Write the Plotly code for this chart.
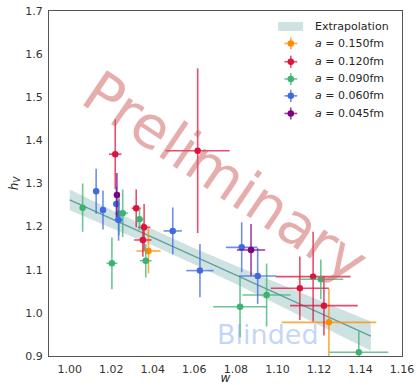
import plotly.graph_objects as go

# ---------------- data ----------------
orange_w = [1.0379, 1.1248]
orange_h = [1.1435, 0.978]
orange_wx = [0.0058, 0.0228]
orange_he = [0.052, 0.078]

red_w = [1.0219, 1.0320, 1.0358, 1.0352, 1.0616, 1.1108, 1.1172, 1.1224]
red_h = [1.368, 1.2425, 1.1984, 1.169, 1.376, 1.057, 1.084, 1.0167]
red_wx = [0.003, 0.0022, 0.003, 0.0042, 0.0154, 0.014, 0.018, 0.0163]
red_he = [0.081, 0.044, 0.054, 0.039, 0.191, 0.0735, 0.104, 0.069]

green_w = [1.0062, 1.0203, 1.0237, 1.0255, 1.0336, 1.0366, 1.0820, 1.0948, 1.1209, 1.1392]
green_h = [1.244, 1.115, 1.230, 1.231, 1.217, 1.121, 1.0143, 1.0414, 1.0778, 0.9086]
green_wx = [0.0005, 0.0026, 0.002, 0.0025, 0.002, 0.0028, 0.0129, 0.0116, 0.0108, 0.0142]
green_he = [0.056, 0.060, 0.050, 0.055, 0.025, 0.039, 0.071, 0.073, 0.046, 0.048]

blue_w = [1.0127, 1.0160, 1.0224, 1.0235, 1.0496, 1.0627, 1.0828, 1.0905]
blue_h = [1.282, 1.2386, 1.2525, 1.2154, 1.190, 1.098, 1.152, 1.0855]
blue_wx = [0.0005, 0.0005, 0.001, 0.002, 0.0044, 0.0066, 0.0076, 0.009]
blue_he = [0.052, 0.045, 0.040, 0.048, 0.0545, 0.062, 0.058, 0.065]

purple_w = [1.0227, 1.0873]
purple_h = [1.2733, 1.1458]
purple_wx = [0.0008, 0.0068]
purple_he = [0.051, 0.060]

band_w = [1.000, 1.020, 1.040, 1.060, 1.080, 1.100, 1.120, 1.145]
band_upper = [1.286, 1.239, 1.194, 1.150, 1.109, 1.069, 1.029, 0.980]
band_lower = [1.238, 1.197, 1.156, 1.112, 1.067, 1.019, 0.971, 0.912]
fit_w = [1.000, 1.145]
fit_h = [1.262, 0.946]

x_ticks = [1.00, 1.02, 1.04, 1.06, 1.08, 1.10, 1.12, 1.14, 1.16]
x_ticklabels = ["1.00", "1.02", "1.04", "1.06", "1.08", "1.10", "1.12", "1.14", "1.16"]
y_ticks = [0.9, 1.0, 1.1, 1.2, 1.3, 1.4, 1.5, 1.6, 1.7]
y_ticklabels = ["0.9", "1.0", "1.1", "1.2", "1.3", "1.4", "1.5", "1.6", "1.7"]

series = [
    ("a = 0.150fm", orange_w, orange_h, orange_wx, orange_he, (255, 140, 0)),
    ("a = 0.120fm", red_w, red_h, red_wx, red_he, (220, 20, 60)),
    ("a = 0.090fm", green_w, green_h, green_wx, green_he, (60, 179, 113)),
    ("a = 0.060fm", blue_w, blue_h, blue_wx, blue_he, (65, 105, 225)),
    ("a = 0.045fm", purple_w, purple_h, purple_wx, purple_he, (128, 0, 128)),
]

FONT = "DejaVu Sans"
fig = go.Figure()

# extrapolation band
fig.add_trace(go.Scatter(
    x=band_w + band_w[::-1], y=band_upper + band_lower[::-1],
    fill="toself", fillcolor="rgba(95,158,160,0.3)", line=dict(width=0),
    mode="lines", hoverinfo="skip", showlegend=False))
fig.add_trace(go.Scatter(
    x=fit_w, y=fit_h, mode="lines",
    line=dict(color="rgb(95,158,160)", width=1.2), showlegend=False))

def rgba(c, a):
    return "rgba(%d,%d,%d,%s)" % (c[0], c[1], c[2], a)

for name, w, h, wx, he, c in series:
    fig.add_trace(go.Scatter(
        x=w, y=h, mode="markers",
        marker=dict(size=6.5, color=rgba(c, 1)),
        error_x=dict(type="data", array=wx, color=rgba(c, 0.75), thickness=1.6, width=0),
        error_y=dict(type="data", array=he, color=rgba(c, 0.75), thickness=1.6, width=0),
        showlegend=False))

# manual legend (overlay axes in axes-fraction units)
leg_x = 0.685
leg_y = [0.906, 0.853, 0.803, 0.754, 0.703]
for (name, w, h, wx, he, c), ly in zip(series, leg_y):
    fig.add_trace(go.Scatter(
        x=[leg_x], y=[ly], mode="markers", xaxis="x2", yaxis="y2",
        marker=dict(size=6.5, color=rgba(c, 1)),
        error_x=dict(type="data", array=[0.018], color=rgba(c, 0.75), thickness=1.6, width=0),
        error_y=dict(type="data", array=[0.0175], color=rgba(c, 0.75), thickness=1.6, width=0),
        showlegend=False, hoverinfo="skip"))

annotations = []
annotations.append(dict(xref="paper", yref="paper", x=0.747, y=0.955, xanchor="left", yanchor="middle",
                        text="Extrapolation", showarrow=False, font=dict(family=FONT, size=11, color="#262626")))
for (name, *_), ly in zip(series, leg_y):
    val = name.split("= ")[1]
    annotations.append(dict(xref="paper", yref="paper", x=0.747, y=ly, xanchor="left", yanchor="middle",
                            text="<i>a</i> = " + val, showarrow=False,
                            font=dict(family=FONT, size=11, color="#262626")))

# watermarks
annotations.append(dict(xref="paper", yref="paper", x=0.5, y=0.52, text="Preliminary", showarrow=False,
                        textangle=34, font=dict(family=FONT, size=58, color="rgba(205,92,92,0.5)")))
annotations.append(dict(xref="paper", yref="paper", x=0.619, y=0.061, text="Blinded", showarrow=False,
                        xanchor="center", yanchor="middle",
                        font=dict(family=FONT, size=27, color="rgba(100,149,237,0.4)")))

shapes = [dict(type="rect", xref="paper", yref="paper", x0=0.649, x1=0.72, y0=0.942, y1=0.968,
               fillcolor="rgba(95,158,160,0.3)", line=dict(width=0))]

fig.update_layout(
    width=416, height=385,
    margin=dict(l=49, r=14, t=11, b=29, autoexpand=False),
    paper_bgcolor="white", plot_bgcolor="white",
    font=dict(family=FONT, size=11, color="#333333"),
    annotations=annotations, shapes=shapes,
    xaxis=dict(range=[0.99, 1.16], tickvals=x_ticks, ticktext=x_ticklabels, automargin=False,
               showgrid=False, zeroline=False, showline=True, mirror=True,
               linecolor="#555555", linewidth=1.2, ticks="outside", ticklen=3,
               tickcolor="rgba(0,0,0,0)", tickfont=dict(size=11, color="#333333"),
               title=dict(text="<i>w</i>", standoff=2, font=dict(size=12, color="#262626"))),
    yaxis=dict(range=[0.9, 1.7], tickvals=y_ticks, ticktext=y_ticklabels, automargin=False,
               showgrid=False, zeroline=False, showline=True, mirror=True,
               linecolor="#555555", linewidth=1.2, ticks="outside", ticklen=3,
               tickcolor="rgba(0,0,0,0)", tickfont=dict(size=11, color="#333333"),
               title=dict(text="<i>h<sub>V</sub></i>", standoff=4, font=dict(size=12, color="#262626"))),
    xaxis2=dict(range=[0, 1], overlaying="x", anchor="y2", visible=False),
    yaxis2=dict(range=[0, 1], overlaying="y", anchor="x2", visible=False),
    showlegend=False,
)

# remove the default 8px page margin so the 416x385 figure fills the window exactly
fig.write_html("out.html", config={"displayModeBar": False},
               post_script="document.body.style.margin='0';")
